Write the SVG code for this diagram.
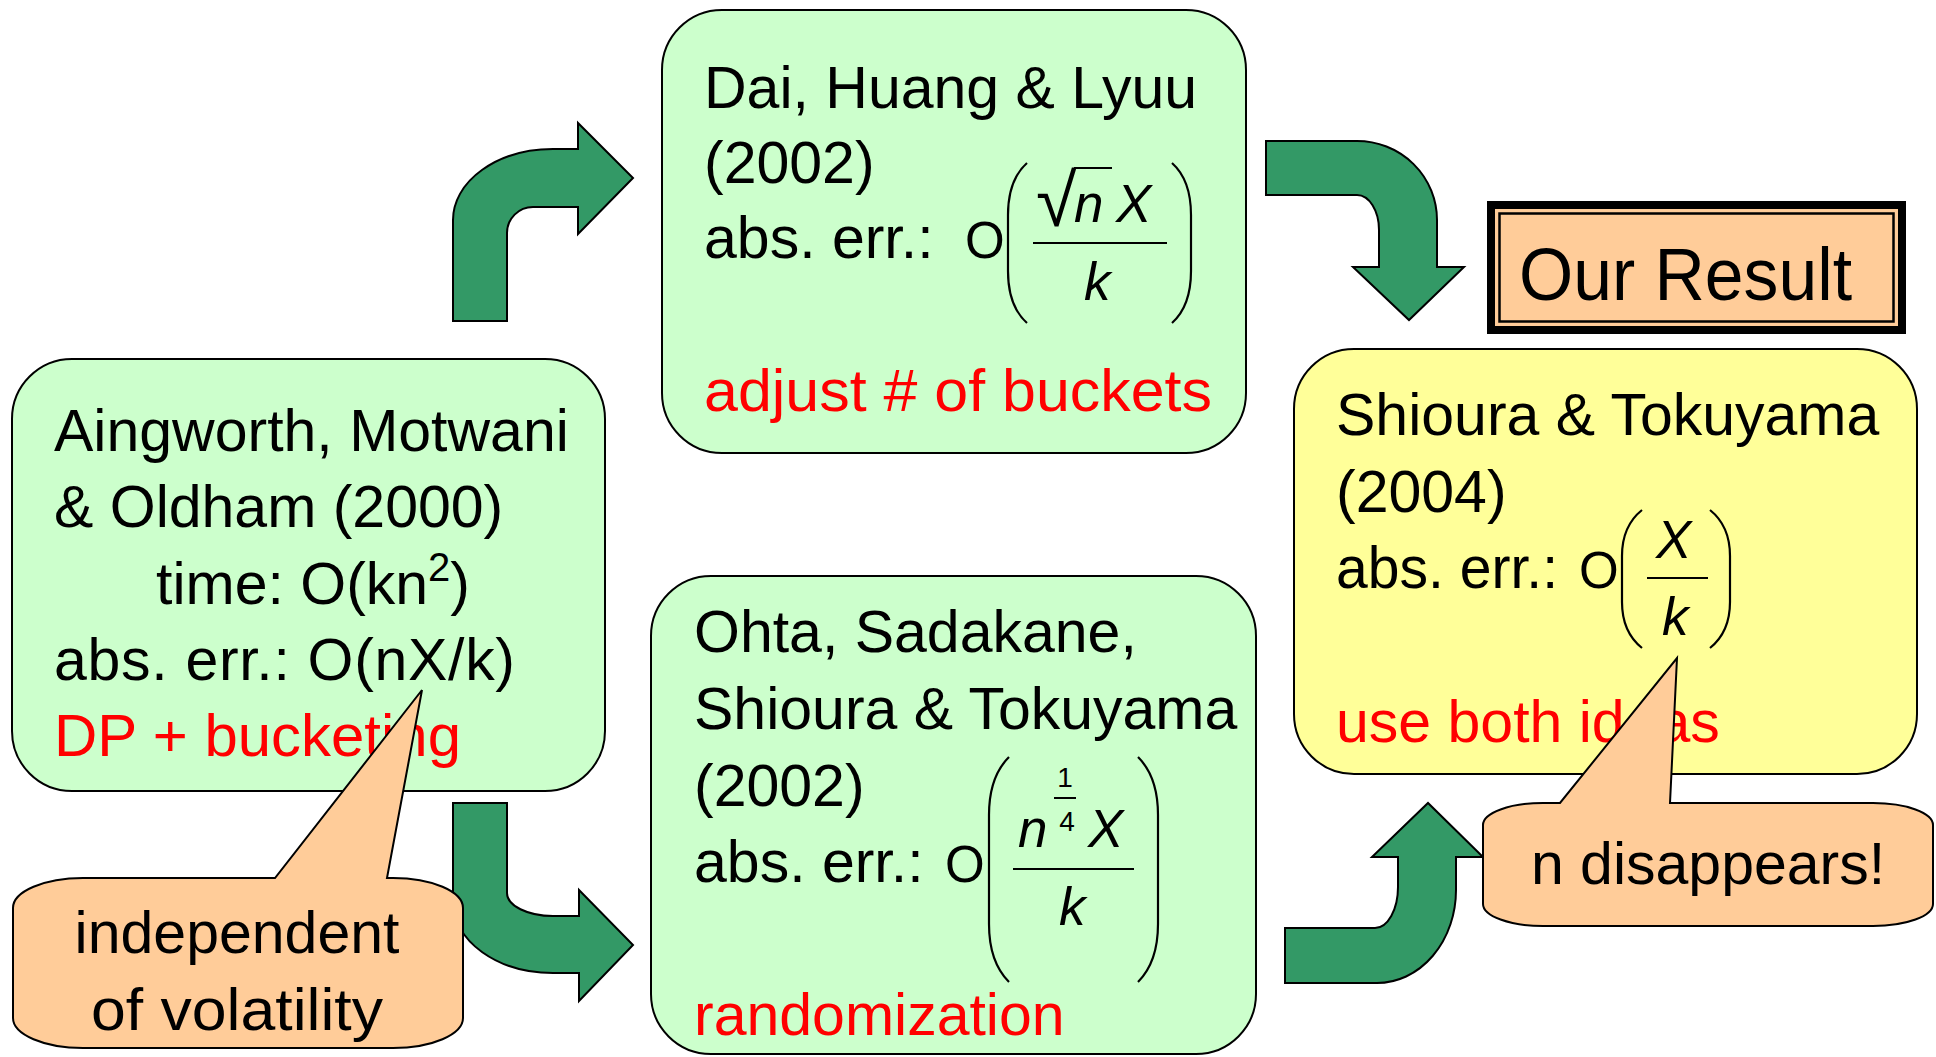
<svg xmlns="http://www.w3.org/2000/svg" width="1936" height="1057" viewBox="0 0 1936 1057">
  <style>
    .t { font-family: "Liberation Sans", Arial, sans-serif; font-size: 59px; fill: #000; }
    .red { fill: #FF0000; }
    .m { font-family: "Liberation Sans", Arial, sans-serif; font-size: 53px; font-style: italic; fill: #000; }
    .o { font-family: "Liberation Sans", Arial, sans-serif; font-size: 51px; fill: #000; }
    .frac { font-family: "Liberation Sans", Arial, sans-serif; font-size: 28px; fill: #000; }
    .green { fill: #CCFFCC; stroke: #000; stroke-width: 2; }
    .yellow { fill: #FFFF99; stroke: #000; stroke-width: 2; }
    .peach { fill: #FFCC99; stroke: #000; stroke-width: 2; }
    .arrow { fill: #339966; stroke: #000; stroke-width: 2; stroke-linejoin: miter; }
    .paren { fill: none; stroke: #000; stroke-width: 2.2; }
    .bar { stroke: #000; stroke-width: 2; }
  </style>

  <!-- bent arrows between the boxes -->
  <g id="connectors">
    <path class="arrow" d="M 453 321 L 453 220 A 100 71 0 0 1 553 149 L 578 149 L 578 123 L 633 178 L 578 234 L 578 207 L 533 207 A 26 26 0 0 0 507 233 L 507 321 Z"/>
    <path class="arrow" d="M 453 803 L 507 803 L 507 893 A 46 23 0 0 0 553 916 L 579 916 L 579 890 L 633 945 L 579 1001 L 579 973 L 553 973 A 100 71 0 0 1 453 902 Z"/>
    <path class="arrow" d="M 1266 141 L 1357 141 A 80 79 0 0 1 1437 220 L 1437 267 L 1464 267 L 1409 320 L 1353 267 L 1379 267 L 1379 230 A 22 35 0 0 0 1357 195 L 1266 195 Z"/>
    <path class="arrow" d="M 1285 928 L 1375 928 A 23 41 0 0 0 1398 887 L 1398 857 L 1372 857 L 1428 803 L 1483 857 L 1456 857 L 1456 890 A 79 93 0 0 1 1377 983 L 1285 983 Z"/>
  </g>

  <!-- Aingworth, Motwani & Oldham -->
  <g id="node-amo">
    <rect class="green" x="12" y="359" width="593" height="432" rx="60" ry="60"/>
    <text class="t" x="54" y="451">Aingworth, Motwani</text>
    <text class="t" x="54" y="527">&amp; Oldham (2000)</text>
    <text class="t" x="156" y="604">time: O(kn<tspan style="font-size:40px" dy="-23">2</tspan><tspan dy="23">)</tspan></text>
    <text class="t" x="54" y="680" textLength="461" lengthAdjust="spacing">abs. err.: O(nX/k)</text>
    <text class="t red" x="54" y="756" textLength="407" lengthAdjust="spacingAndGlyphs">DP + bucketing</text>
  </g>

  <!-- Dai, Huang & Lyuu -->
  <g id="node-dhl">
    <rect class="green" x="662" y="10" width="584" height="443" rx="60" ry="60"/>
    <text class="t" x="704" y="108">Dai, Huang &amp; Lyuu</text>
    <text class="t" x="704" y="183">(2002)</text>
    <text class="t" x="704" y="258">abs. err.:</text>
    <text class="o" x="965" y="258">O</text>
    <path class="paren" d="M 1027 163 Q 1008 180 1008 215 L 1008 271 Q 1008 306 1027 323"/>
    <path class="paren" d="M 1172 163 Q 1191 180 1191 215 L 1191 271 Q 1191 306 1172 323"/>
    <text class="o" x="1036" y="226" style="font-size:74px">√</text>
    <line class="bar" x1="1074" y1="168" x2="1112" y2="168"/>
    <text class="m" x="1074" y="222">n</text>
    <text class="m" x="1116" y="222">X</text>
    <line class="bar" x1="1033" y1="243" x2="1167" y2="243"/>
    <text class="m" x="1084" y="300">k</text>
    <text class="t red" x="704" y="411" textLength="508" lengthAdjust="spacingAndGlyphs">adjust # of buckets</text>
  </g>

  <!-- Ohta, Sadakane, Shioura & Tokuyama -->
  <g id="node-osst">
    <rect class="green" x="651" y="576" width="605" height="478" rx="60" ry="60"/>
    <text class="t" x="694" y="652">Ohta, Sadakane,</text>
    <text class="t" x="694" y="729">Shioura &amp; Tokuyama</text>
    <text class="t" x="694" y="806">(2002)</text>
    <text class="t" x="694" y="882">abs. err.:</text>
    <text class="o" x="945" y="882">O</text>
    <path class="paren" d="M 1009 757 Q 989 777 989 815 L 989 924 Q 989 962 1009 982"/>
    <path class="paren" d="M 1138 757 Q 1158 777 1158 815 L 1158 924 Q 1158 962 1138 982"/>
    <text class="m" x="1018" y="847">n</text>
    <text class="frac" x="1065" y="787" text-anchor="middle">1</text>
    <line class="bar" x1="1054" y1="798" x2="1076" y2="798" stroke-width="1.5"/>
    <text class="frac" x="1067" y="831" text-anchor="middle">4</text>
    <text class="m" x="1088" y="847">X</text>
    <line class="bar" x1="1013" y1="869" x2="1134" y2="869"/>
    <text class="m" x="1059" y="925">k</text>
    <text class="t red" x="694" y="1035">randomization</text>
  </g>

  <!-- Our Result label -->
  <g id="node-our-result">
    <rect x="1487" y="201" width="419" height="133" fill="#000"/>
    <rect x="1495" y="209" width="403" height="117" fill="#FFCC99"/>
    <rect x="1499.5" y="213.5" width="394" height="108" fill="none" stroke="#000" stroke-width="2.5"/>
    <text class="t" x="1519" y="300" style="font-size:74px" textLength="333" lengthAdjust="spacingAndGlyphs">Our Result</text>
  </g>

  <!-- Shioura & Tokuyama (2004) -->
  <g id="node-st2004">
    <rect class="yellow" x="1294" y="349" width="623" height="425" rx="60" ry="60"/>
    <text class="t" x="1336" y="435">Shioura &amp; Tokuyama</text>
    <text class="t" x="1336" y="512">(2004)</text>
    <text class="t" x="1336" y="588" textLength="222" lengthAdjust="spacingAndGlyphs">abs. err.:</text>
    <text class="o" x="1579" y="588">O</text>
    <path class="paren" d="M 1642 510 Q 1622 526 1622 556 L 1622 602 Q 1622 632 1642 648"/>
    <path class="paren" d="M 1710 510 Q 1730 526 1730 556 L 1730 602 Q 1730 632 1710 648"/>
    <text class="m" x="1656" y="558">X</text>
    <line class="bar" x1="1647" y1="578" x2="1708" y2="578"/>
    <text class="m" x="1662" y="635">k</text>
    <text class="t red" x="1336" y="742">use both ideas</text>
  </g>

  <!-- speech bubbles -->
  <g id="callout-volatility">
    <path class="peach" d="M 83 878 L 275 878 L 422 690 L 387 878 L 393 878 A 70 30 0 0 1 463 908 L 463 1018 A 70 30 0 0 1 393 1048 L 83 1048 A 70 30 0 0 1 13 1018 L 13 908 A 70 30 0 0 1 83 878 Z"/>
    <text class="t" x="237" y="953" text-anchor="middle">independent</text>
    <text class="t" x="237" y="1030" text-anchor="middle" textLength="292" lengthAdjust="spacingAndGlyphs">of volatility</text>
  </g>

  <g id="callout-disappears">
    <path class="peach" d="M 1543 803 L 1560 803 L 1677 658 L 1670 803 L 1873 803 A 60 22 0 0 1 1933 825 L 1933 904 A 60 22 0 0 1 1873 926 L 1543 926 A 60 22 0 0 1 1483 904 L 1483 825 A 60 22 0 0 1 1543 803 Z"/>
    <text class="t" x="1708" y="884" text-anchor="middle">n disappears!</text>
  </g>
</svg>
